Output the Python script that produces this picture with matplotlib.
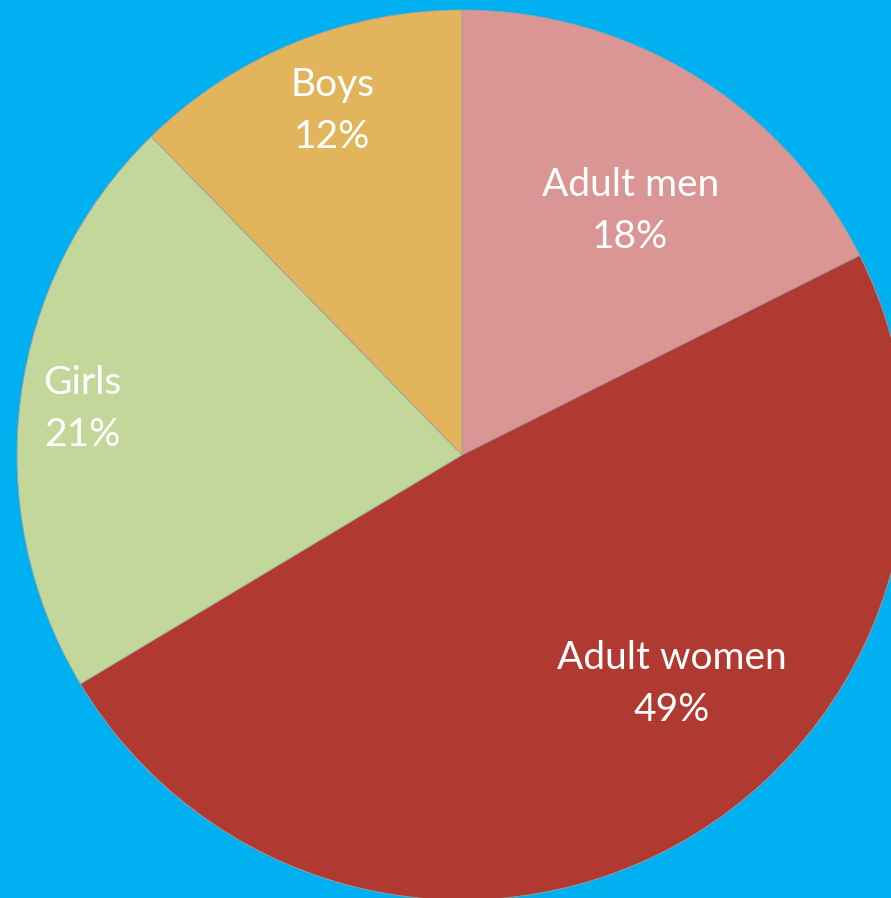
import matplotlib
matplotlib.use("Agg")
from matplotlib import pyplot as plt

# data (estimated shares, shown rounded)
labels = ['Adult men', 'Adult women', 'Girls', 'Boys']
shares = [17.6, 48.8, 21.3, 12.3]
colors = ['#D99694', '#B03A31', '#C4D79B', '#E2B55D']

# label centres (axes data units, pie radius = 1)
label_pos = [(0.378, 0.548), (0.472, -0.515), (-0.854, 0.103), (-0.292, 0.773)]

fig = plt.figure(figsize=(8.91, 8.98), dpi=100)
fig.patch.set_facecolor('#00B0F0')
ax = fig.add_axes([0, 0, 1, 1])
ax.set_facecolor('#00B0F0')

ax.pie(
    shares, colors=colors, startangle=90, counterclock=False,
    radius=1, center=(0, 0),
    wedgeprops=dict(linewidth=0.6, edgecolor='#A0A0A0')
)

for name, pct, (x, y) in zip(labels, shares, label_pos):
    ax.text(x, y, f'{name}\n{round(pct)}%', ha='center', va='center',
            color='white', fontsize=28, family='Lato', linespacing=1.55)

ax.set_aspect('auto')
ax.set_xlim(-462 / 445, (891 - 462) / 445)
ax.set_ylim(-(898 - 455) / 445, 455 / 445)
ax.axis('off')

fig.savefig('out.png', dpi=100, facecolor=fig.get_facecolor())
